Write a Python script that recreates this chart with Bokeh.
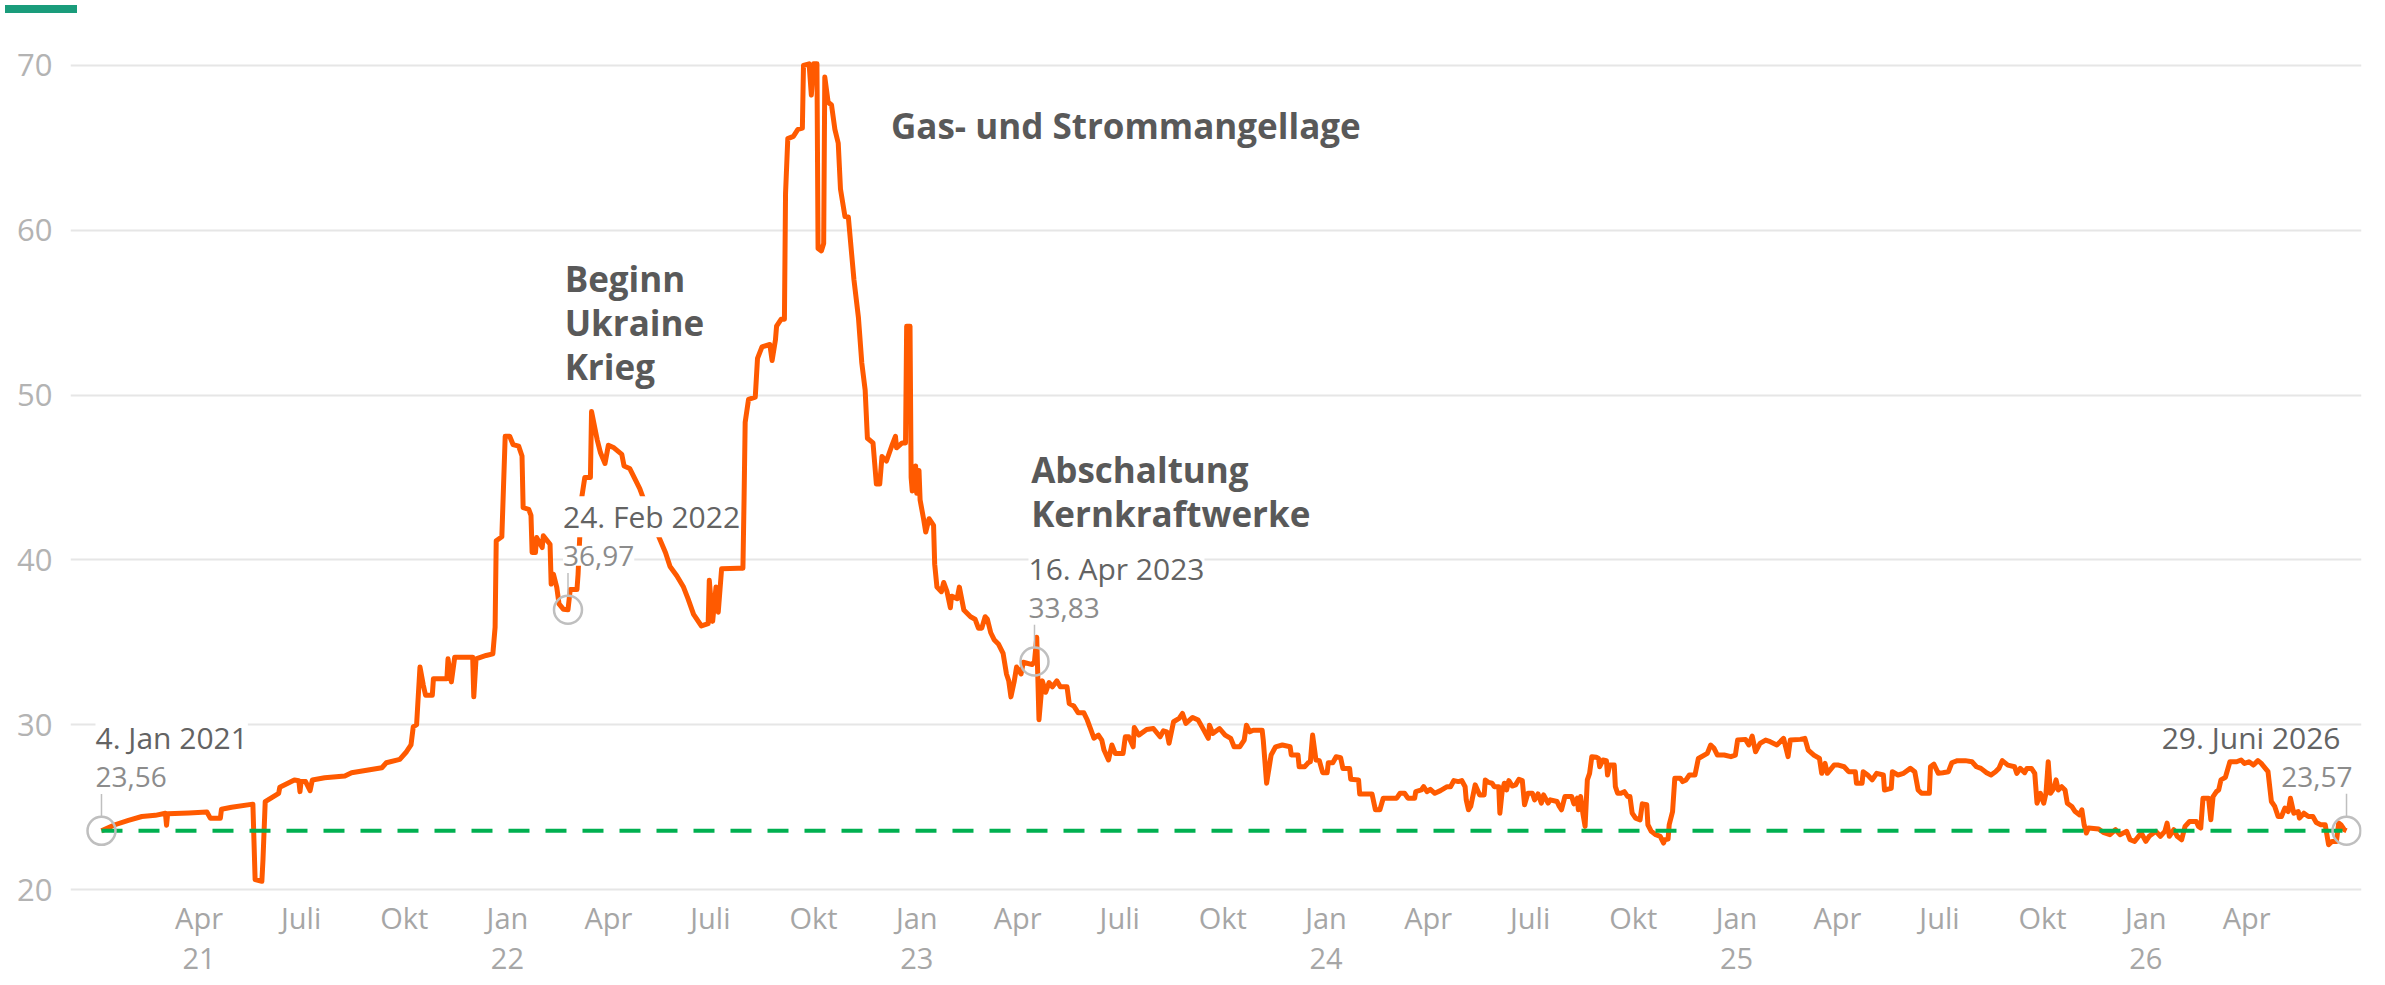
import numpy as np
import pandas as pd
from bokeh.plotting import figure
from bokeh.models import Range1d, FixedTicker, Label, Div, ColumnDataSource
from bokeh.layouts import column
from bokeh.embed import file_html
from bokeh.resources import INLINE

# ---------------- data ----------------
START = "2021-01-04"
# days after 4 Jan 2021
tage = [
    0, 12, 24, 36, 48, 57, 58, 59, 78, 94,
    97, 106, 107, 116, 135, 137, 143, 144, 146, 158,
    159, 172, 176, 177, 178, 182, 186, 188, 199, 217,
    223, 250, 254, 266, 272, 276, 278, 281, 284, 287,
    289, 295, 296, 308, 309, 312, 315, 331, 332, 334,
    343, 349, 351, 352, 357, 360, 364, 367, 372, 375,
    376, 381, 383, 384, 387, 388, 393, 394, 400, 401,
    403, 406, 408, 412, 416, 418, 424, 425, 428, 431,
    436, 437, 442, 445, 449, 452, 457, 464, 466, 471,
    476, 480, 483, 497, 503, 507, 513, 519, 523, 528,
    535, 541, 542, 545, 548, 550, 553, 568, 572, 573,
    574, 577, 583, 585, 589, 596, 598, 601, 602, 606,
    609, 610, 612, 617, 621, 625, 626, 631, 633, 635,
    638, 639, 642, 644, 645, 648, 651, 654, 657, 659,
    663, 666, 671, 675, 678, 681, 683, 688, 691, 694,
    696, 700, 705, 708, 709, 714, 717, 718, 721, 722,
    723, 726, 727, 729, 730, 733, 735, 738, 742, 743,
    745, 749, 751, 754, 757, 758, 763, 765, 769, 775,
    779, 782, 785, 788, 790, 793, 796, 800, 804, 807,
    809, 811, 814, 816, 820, 822, 830, 832, 834, 836,
    839, 842, 845, 848, 852, 855, 861, 863, 867, 871,
    876, 879, 882, 885,
    889, 892, 894, 898, 901, 904, 911, 913, 916, 920,
    921, 925, 932, 938, 944, 947, 950, 952, 956, 961,
    964, 967, 973, 978, 983, 987, 988, 991, 997, 1002,
    1007, 1010, 1015, 1019, 1021, 1024, 1027, 1035, 1036, 1039,
    1043, 1047, 1053, 1060, 1061, 1067, 1068, 1073, 1076, 1078,
    1080, 1083, 1086, 1089, 1093, 1094, 1098, 1101, 1105, 1107,
    1113, 1114, 1121, 1122, 1133, 1136, 1140, 1143, 1155, 1158,
    1162, 1165, 1171, 1172, 1177, 1179, 1182, 1185, 1189, 1194,
    1200, 1203, 1206, 1210, 1213, 1216, 1217, 1219, 1221, 1225,
    1229, 1233, 1234, 1237, 1240, 1242, 1246, 1247, 1249, 1251,
    1253, 1255, 1258, 1261, 1264, 1267, 1269, 1272, 1276, 1278,
    1281, 1284, 1286, 1290, 1292, 1298, 1300, 1302, 1305, 1311,
    1313, 1316, 1317, 1319, 1321, 1323, 1325, 1327, 1329, 1333,
    1335, 1336, 1339, 1342, 1343, 1345, 1349, 1350, 1352, 1355,
    1358, 1361, 1363, 1365, 1368, 1372, 1374, 1378, 1379, 1382,
    1386, 1390, 1393, 1394, 1397, 1398, 1401, 1403, 1408, 1410,
    1413, 1416, 1421, 1424,
    1432, 1435, 1438, 1441, 1447, 1453, 1457, 1459, 1466, 1469,
    1472, 1475, 1479, 1484, 1488, 1494, 1500, 1504, 1506, 1515,
    1519, 1522, 1527, 1532, 1534, 1537, 1539, 1545, 1549, 1554,
    1558, 1564, 1565, 1570, 1571, 1575, 1579, 1583, 1589, 1590,
    1596, 1597, 1602, 1607, 1613, 1617, 1620, 1623, 1630, 1631,
    1634, 1638, 1642, 1647, 1650, 1655, 1662, 1668, 1672, 1676,
    1681, 1685, 1689, 1692, 1695, 1700, 1706, 1708, 1711, 1715,
    1717, 1721, 1724, 1726, 1729, 1732, 1734, 1736, 1738, 1741,
    1743, 1745, 1748, 1751, 1753, 1757, 1760, 1764, 1766, 1768,
    1770, 1772, 1781, 1785, 1791, 1796, 1800, 1806, 1809, 1813,
    1819, 1823, 1826, 1832, 1836, 1840, 1842, 1844, 1848, 1851,
    1855, 1858, 1862, 1868, 1870, 1872, 1874, 1879, 1881, 1883,
    1886, 1888, 1890, 1894, 1898, 1904, 1908, 1911, 1915, 1919,
    1923, 1926, 1932, 1935, 1938, 1941, 1944, 1947, 1950, 1952,
    1955, 1959, 1960, 1964, 1968, 1972, 1975, 1979, 1983, 1986,
    1989, 1993, 1995, 1997, 2000, 2002,
]
preis = [
    23.56, 23.93, 24.2, 24.43, 24.5, 24.63, 23.9, 24.6, 24.65, 24.7,
    24.33, 24.33, 24.87, 24.99, 25.18, 20.6, 20.5, 21.8, 25.33, 25.84,
    26.2, 26.65, 26.6, 25.94, 26.55, 26.55, 26.0, 26.65, 26.78, 26.89,
    27.09, 27.39, 27.69, 27.9, 28.36, 28.77, 29.87, 30.0, 33.5, 32.39,
    31.79, 31.79, 32.79, 32.79, 34.0, 32.6, 34.1, 34.1, 31.69, 34.0,
    34.2, 34.3, 35.91, 41.16, 41.4, 47.5, 47.5, 47.0, 46.9, 46.3,
    43.17, 43.07, 42.7, 40.45, 40.45, 41.36, 40.75, 41.46, 40.95, 38.53,
    39.14, 38.33, 37.33, 37.0, 36.97, 38.2, 38.2, 39.14, 43.67, 45.0,
    45.0, 49.0, 47.3, 46.5, 45.85, 46.96, 46.8, 46.4, 45.7, 45.55,
    44.87, 44.33, 43.77, 41.4, 40.43, 39.6, 39.04, 38.35, 37.65, 36.69,
    35.99, 36.13, 38.77, 36.27, 38.35, 36.83, 39.47, 39.5, 39.5, 43.63,
    48.35, 49.74, 49.88, 52.23, 52.93, 53.07, 52.1, 53.35, 54.18, 54.6,
    54.6, 62.23, 65.56, 65.7, 66.12, 66.2, 70.0, 70.1, 68.2, 70.1,
    70.1, 58.9, 58.75, 59.2, 69.3, 67.77, 67.6, 66.12, 65.28, 62.5,
    60.83, 60.8, 57.0, 54.7, 51.95, 50.3, 47.38, 47.1, 44.6, 44.6,
    46.27, 46.0, 46.97, 47.5, 46.8, 47.1, 47.1, 54.17, 54.17, 45.0,
    44.18, 45.7, 44.04, 45.43, 43.63, 42.52, 41.69, 42.5, 42.1, 39.74,
    38.35, 38.07, 38.63, 38.07, 37.1, 37.8, 37.65, 38.35, 36.96, 36.55,
    36.4, 35.86, 35.86, 36.55, 36.4, 35.58, 35.16, 34.88, 34.33, 33.08,
    32.67, 31.69, 32.66, 33.5, 33.08, 33.79, 33.65, 33.83, 35.3, 30.3,
    32.66, 31.97, 32.55, 32.3, 32.66, 32.3, 32.3, 31.28, 31.14, 30.72,
    30.72, 30.3, 29.75, 29.19,
    29.37, 29.07, 28.46, 27.86, 28.77, 28.26, 28.26, 29.27, 29.27, 28.66,
    29.83, 29.37, 29.71, 29.77, 29.27, 29.63, 29.57, 28.87, 30.18, 30.38,
    30.68, 30.08, 30.44, 30.28, 29.67, 29.17, 29.97, 29.47, 29.77, 29.37,
    29.17, 28.66, 28.66, 29.07, 29.97, 29.57, 29.67, 29.67, 29.07, 26.45,
    28.16, 28.66, 28.77, 28.66, 28.16, 28.16, 27.45, 27.45, 27.69, 27.75,
    29.37, 27.86, 27.82, 27.09, 27.09, 27.69, 27.69, 28.06, 28.0, 27.35,
    27.35, 26.69, 26.65, 25.8, 25.8, 24.84, 24.84, 25.54, 25.54, 25.84,
    25.84, 25.54, 25.54, 25.94, 26.04, 26.24, 25.94, 26.08, 25.84, 26.0,
    26.24, 26.24, 26.61, 26.55, 26.61, 26.24, 25.44, 24.84, 25.04, 26.35,
    25.74, 25.74, 26.65, 26.5, 26.45, 26.24, 26.24, 24.63, 25.94, 26.45,
    26.04, 26.61, 26.28, 26.35, 26.69, 26.61, 25.14, 25.84, 25.84, 25.44,
    25.8, 25.24, 25.74, 25.24, 25.44, 25.34, 25.04, 24.84, 25.64, 25.64,
    25.2, 25.54, 24.84, 25.64, 24.63, 23.83, 26.65, 27.05, 28.06, 28.02,
    27.95, 27.45, 27.86, 27.82, 26.95, 27.55, 27.55, 26.24, 25.84, 25.84,
    25.94, 25.64, 25.64, 24.63, 24.33, 24.23, 25.2, 25.14, 23.93, 23.53,
    23.33, 23.23, 22.82, 23.02, 23.06, 23.93, 24.73, 26.75, 26.75, 26.55,
    26.65, 26.95, 26.95, 27.95,
    28.26, 28.77, 28.57, 28.16, 28.16, 28.06, 28.16, 29.07, 29.11, 28.77,
    29.31, 28.36, 28.87, 29.07, 28.97, 28.77, 29.17, 28.06, 29.07, 29.11,
    29.17, 28.46, 28.16, 27.95, 27.05, 27.65, 27.05, 27.55, 27.55, 27.45,
    27.15, 27.15, 26.45, 26.45, 27.15, 26.95, 26.65, 27.05, 26.95, 26.04,
    26.14, 27.15, 26.95, 27.05, 27.35, 27.15, 26.04, 25.84, 25.84, 27.45,
    27.61, 27.05, 27.09, 27.15, 27.69, 27.82, 27.82, 27.75, 27.45, 27.35,
    27.09, 26.95, 27.15, 27.35, 27.82, 27.55, 27.45, 27.05, 27.35, 27.09,
    27.35, 27.35, 27.05, 25.24, 25.84, 25.24, 25.84, 27.75, 25.84, 26.14,
    26.65, 26.04, 26.24, 26.04, 25.24, 25.04, 24.73, 24.53, 24.84, 23.93,
    23.43, 23.73, 23.67, 23.47, 23.33, 23.63, 23.33, 23.53, 23.02, 22.92,
    23.43, 22.92, 23.23, 23.53, 23.23, 23.53, 24.03, 23.23, 23.63, 23.23,
    23.02, 23.83, 24.13, 24.13, 23.83, 23.73, 25.54, 25.54, 24.23, 25.64,
    25.94, 26.04, 26.65, 26.81, 27.75, 27.75, 27.86, 27.65, 27.75, 27.55,
    27.82, 27.65, 27.15, 25.34, 25.04, 24.43, 24.43, 24.94, 24.73, 25.54,
    24.63, 24.73, 24.33, 24.63, 24.43, 24.43, 24.07, 23.93, 23.93, 22.72,
    22.92, 22.92, 24.03, 23.93, 23.63, 23.57,
]
assert len(tage) == len(preis)

referenz_wert = 23.56

marker_datum = ["2021-01-04", "2022-02-24", "2023-04-16", "2026-06-29"]
marker_wert = [23.56, 36.97, 33.83, 23.57]
marker_datum_text = ["4. Jan 2021", "24. Feb 2022", "16. Apr 2023", "29. Juni 2026"]
marker_wert_text = ["23,56", "36,97", "33,83", "23,57"]

ereignis_text = ["Beginn\nUkraine\nKrieg", "Gas- und Strommangellage", "Abschaltung\nKernkraftwerke"]

y_ticks = [20, 30, 40, 50, 60, 70]
x_tick_datum = [
    "2021-04-01", "2021-07-01", "2021-10-01",
    "2022-01-01", "2022-04-01", "2022-07-01", "2022-10-01",
    "2023-01-01", "2023-04-01", "2023-07-01", "2023-10-01",
    "2024-01-01", "2024-04-01", "2024-07-01", "2024-10-01",
    "2025-01-01", "2025-04-01", "2025-07-01", "2025-10-01",
    "2026-01-01", "2026-04-01",
]
x_tick_text = [
    "Apr\n21", "Juli", "Okt",
    "Jan\n22", "Apr", "Juli", "Okt",
    "Jan\n23", "Apr", "Juli", "Okt",
    "Jan\n24", "Apr", "Juli", "Okt",
    "Jan\n25", "Apr", "Juli", "Okt",
    "Jan\n26", "Apr",
]

# ---------------- styling / layout ----------------
FONT = "Open Sans"
ORANGE = "#FF5A00"
GREEN = "#00B050"
Y0, Y1 = 19.88, 72.0
FRAME_H = 862
PX_PER_UNIT = FRAME_H / (Y1 - Y0)


def ms(d):
    return int(pd.Timestamp(d).value // 10**6)


x_dates = pd.Timestamp(START) + pd.to_timedelta(np.array(tage), unit="D")
src = ColumnDataSource(dict(x=x_dates, y=preis))

p = figure(
    width=2369, height=961,
    x_axis_type="datetime",
    x_range=Range1d(pd.Timestamp("2020-12-07 08:38"), pd.Timestamp("2026-07-12 08:38")),
    y_range=Range1d(Y0, Y1),
    output_backend="svg", toolbar_location=None,
    min_border_left=70, min_border_right=8, min_border_top=14, min_border_bottom=85,
    background_fill_color="white", border_fill_color="white",
    outline_line_color=None,
)

# grid
p.xgrid.visible = False
p.ygrid.ticker = FixedTicker(ticks=y_ticks)
p.ygrid.grid_line_color = "#e6e6e6"
p.ygrid.grid_line_width = 2

# y axis
p.yaxis.ticker = FixedTicker(ticks=y_ticks)
p.yaxis.axis_line_color = None
p.yaxis.major_tick_line_color = None
p.yaxis.minor_tick_line_color = None
p.yaxis.major_label_standoff = 12
p.yaxis.major_label_text_font = FONT
p.yaxis.major_label_text_font_size = "31px"
p.yaxis.major_label_text_color = "#b3b3b3"

# x axis
tick_ms = [ms(d) for d in x_tick_datum]
p.xaxis.ticker = FixedTicker(ticks=tick_ms, minor_ticks=[])
p.xaxis.major_label_overrides = {t: s for t, s in zip(tick_ms, x_tick_text)}
p.xaxis.axis_line_color = None
p.xaxis.major_tick_line_color = None
p.xaxis.minor_tick_line_color = None
p.xaxis.major_label_standoff = 0
p.xaxis.major_label_text_font = FONT
p.xaxis.major_label_text_font_size = "29px"
p.xaxis.major_label_text_color = "#a6a6a6"
p.xaxis.major_label_text_line_height = 1.03

# series
p.line("x", "y", source=src, line_color=ORANGE, line_width=5, line_join="round")

# reference line (value on first day)
p.line([x_dates[0], x_dates[-1]], [referenz_wert, referenz_wert],
       line_color=GREEN, line_width=4, line_dash="21 16")

# markers and leader lines
mx = pd.to_datetime(marker_datum)
p.scatter(mx, marker_wert, size=28, fill_color=None, line_color="#bfbfbf", line_width=2.5)
p.segment(mx, [v + 14 / PX_PER_UNIT for v in marker_wert],
          mx, [v + 37 / PX_PER_UNIT for v in marker_wert],
          line_color="#bfbfbf", line_width=1.5)

# marker labels
date_dx = [-6, -5, -6, -6]
val_dx = [-6, -5, -6, 6]
aligns = ["left", "left", "left", "right"]
bg_alpha = [1.0, 1.0, 1.0, 0.0]
for d, v, t1, t2, dx1, dx2, al, ba in zip(marker_datum, marker_wert, marker_datum_text,
                                          marker_wert_text, date_dx, val_dx, aligns, bg_alpha):
    p.add_layout(Label(x=ms(d), y=v, text=t1, x_offset=dx1, y_offset=93,
                       text_align=al, text_baseline="alphabetic",
                       text_font=FONT, text_font_size="30px", text_color="#636363",
                       background_fill_color="white", background_fill_alpha=ba))
    p.add_layout(Label(x=ms(d), y=v, text=t2, x_offset=dx2, y_offset=54,
                       text_align=al, text_baseline="alphabetic",
                       text_font=FONT, text_font_size="28px", text_color="#8c8c8c",
                       background_fill_color="white", background_fill_alpha=ba))

# event annotations
ereignis_pos = [("2022-02-21", 58.5), ("2022-12-09", 67.8), ("2023-04-13", 46.9)]
for t, (d, yv) in zip(ereignis_text, ereignis_pos):
    p.add_layout(Label(x=ms(d), y=yv, text=t, text_align="left", text_baseline="top",
                       text_font=FONT, text_font_size="35px", text_font_style="bold",
                       text_color="#595959", text_line_height=0.94))

bar = Div(text="", width=72, height=8, styles={"background-color": "#1a9c7b"})
layout = column(bar, p, spacing=0)

open("out.html", "w").write(file_html(layout, INLINE))
